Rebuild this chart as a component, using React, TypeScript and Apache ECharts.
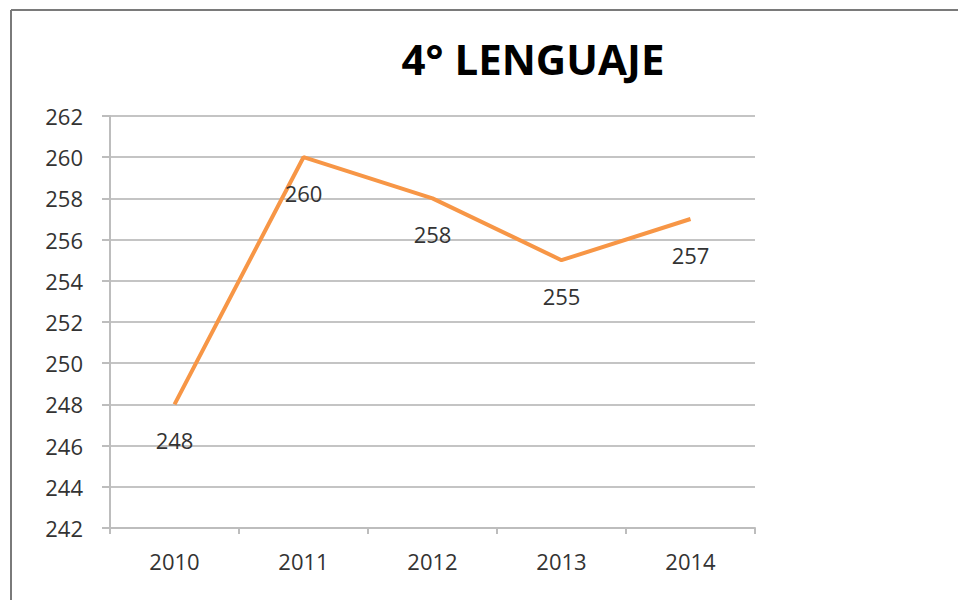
import React, { useEffect, useRef } from "react";
import * as echarts from "echarts";

const title = "4° LENGUAJE";
const years = ["2010", "2011", "2012", "2013", "2014"];
const scores = [248, 260, 258, 255, 257];
const yMin = 242;
const yMax = 262;
const yStep = 2;

export default function App() {
  const ref = useRef<HTMLDivElement>(null);
  useEffect(() => {
    if (!ref.current) return;
    const chart = echarts.init(ref.current, null, { renderer: "svg" });
    const font = "'Open Sans', sans-serif";
    chart.setOption({
      animation: false,
      backgroundColor: "#ffffff",
      title: {
        text: title,
        left: 528,
        textAlign: "center",
        top: 32,
        textStyle: { fontFamily: font, fontWeight: "bold", fontSize: 42, color: "#000000" },
      },
      grid: { left: 110, right: 203, top: 116, bottom: 72 },
      xAxis: {
        type: "category",
        data: years,
        boundaryGap: true,
        axisLine: { lineStyle: { color: "#bdbdbd", width: 2 } },
        axisTick: { show: true, length: 6, alignWithLabel: false, lineStyle: { color: "#bdbdbd", width: 2 } },
        axisLabel: { fontFamily: font, fontSize: 22, color: "#333333", margin: 22 },
      },
      yAxis: {
        type: "value",
        min: yMin,
        max: yMax,
        interval: yStep,
        axisLine: { show: true, lineStyle: { color: "#bdbdbd", width: 2 } },
        axisTick: { show: true, length: 8, lineStyle: { color: "#bdbdbd", width: 2 } },
        axisLabel: { fontFamily: font, fontSize: 22, color: "#333333", margin: 27 },
        splitLine: { lineStyle: { color: "#c4c4c4", width: 2 } },
      },
      series: [
        {
          type: "line",
          data: scores,
          symbol: "circle",
          symbolSize: 1,
          itemStyle: { color: "rgba(0,0,0,0)", borderWidth: 0 },
          lineStyle: { color: "#F79646", width: 4 },
          label: {
            show: true,
            position: "bottom",
            distance: 24,
            fontFamily: font,
            fontSize: 22,
            color: "#333333",
          },
        },
      ],
      graphic: [
        { type: "line", shape: { x1: 11, y1: 10, x2: 958, y2: 10 }, style: { stroke: "#7a7a7a", lineWidth: 2 } },
        { type: "line", shape: { x1: 11, y1: 10, x2: 11, y2: 600 }, style: { stroke: "#7a7a7a", lineWidth: 2 } },
      ],
    });
    return () => chart.dispose();
  }, []);
  return <div ref={ref} style={{ position: "fixed", left: 0, top: 0, width: 958, height: 600 }} />;
}
